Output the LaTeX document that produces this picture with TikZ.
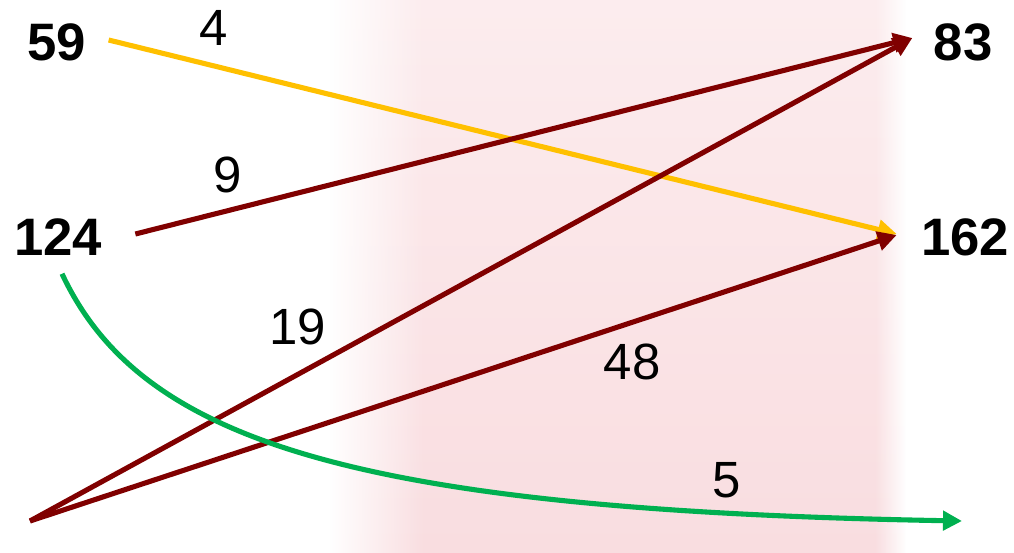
\documentclass[tikz,border=0pt]{standalone}
\usepackage{fontspec}
\setmainfont{Liberation Sans}
\usetikzlibrary{arrows.meta,fadings}
\definecolor{flowgold}{RGB}{255,192,0}
\definecolor{flowred}{RGB}{128,0,0}
\definecolor{flowgreen}{RGB}{0,176,80}
\definecolor{bgpink}{RGB}{249,221,224}
\tikzfading[name=softleft,left color=transparent!0,right color=transparent!100]
\tikzfading[name=softright,left color=transparent!100,right color=transparent!0]
\tikzset{total/.style={font=\fontsize{30}{32}\selectfont\bfseries,inner sep=0pt},
  qty/.style={font=\fontsize{29}{31}\selectfont,inner sep=0pt},
  flow/.style={line width=2.9pt,-{Triangle[length=0.38cm,width=0.38cm]}}}

\begin{document}
\begin{tikzpicture}[x=0.02cm,y=-0.02cm,line join=round]
\useasboundingbox (0,0) rectangle (1014,552);
% --- faded backdrop
\shade[top color=bgpink!55,bottom color=bgpink] (330,0) rectangle (905,552);
\fill[white,path fading=softleft,fit fading=true] (329,-1) rectangle (425,553);
\fill[white,path fading=softright,fit fading=true] (875,-1) rectangle (906,553);
% --- totals
\node[total] (n59) at (57,42) {59};
\node[total] (n124) at (58,237) {124};
\node[total] (n83) at (963,42) {83};
\node[total] (n162) at (965,237) {162};
\coordinate (src) at (30,521); \coordinate (sink) at (962,521);
% --- flows
\draw[flow,flowgold] ([shift={(22,-2)}]n59.east) -- ([shift={(-24,-3)}]n162.west);
\draw[flow,flowred] ([shift={(33,-3)}]n124.east) -- ([shift={(-21,-4)}]n83.west);
\draw[flow,flowred] (src) -- ([shift={(-21,-4)}]n83.west);
\draw[flow,flowred] (src) -- ([shift={(-24,-2)}]n162.west);
\draw[flow,flowgreen] ([shift={(4,18)}]n124.south) .. controls (140,440) and (350,510) .. (sink);
% --- quantities
\node[qty] (q4) at (214,28) {4};
\node[qty] (q9) at (228,175) {9};
\node[qty] (q19) at (298,327) {19};
\node[qty] (q48) at (632,362) {48};
\node[qty] (q5) at (727,480) {5};
\end{tikzpicture}
\end{document}
